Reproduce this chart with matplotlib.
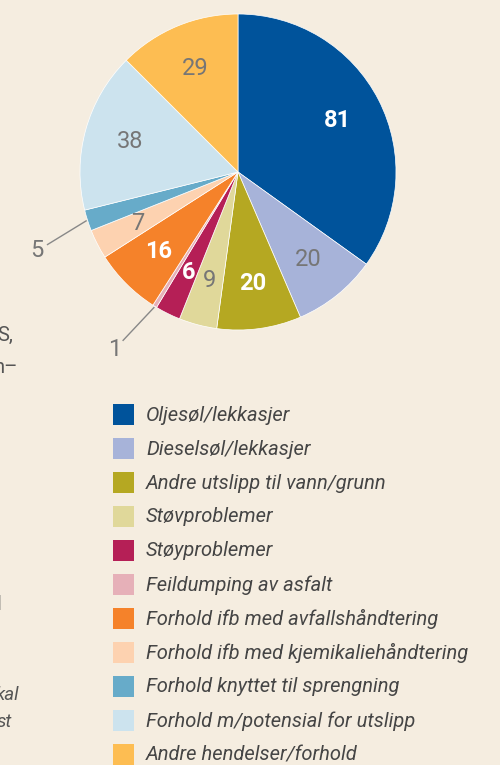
import matplotlib.pyplot as plt
import numpy as np
from matplotlib.patches import Rectangle

# kategorier og antall saker
kategorier = ['Oljesøl/lekkasjer', 'Dieselsøl/lekkasjer', 'Andre utslipp til vann/grunn',
              'Støvproblemer', 'Støyproblemer', 'Feildumping av asfalt',
              'Forhold ifb med avfallshåndtering', 'Forhold ifb med kjemikaliehåndtering',
              'Forhold knyttet til sprengning', 'Forhold m/potensial for utslipp',
              'Andre hendelser/forhold']
antall = [81, 20, 20, 9, 6, 1, 16, 7, 5, 38, 29]
farger = ['#00539B', '#A7B3D9', '#B5A822', '#E0D89A', '#B51F56', '#E6B0B8',
          '#F5822A', '#FDD2B0', '#67ABC9', '#CCE3EE', '#FDBD52']
hvit_tekst = [True, False, True, False, True, False, True, False, False, False, False]
# små sektorer får tall utenfor med strek (vinkelforskyvning i grader)
utenfor = {5: (-2.5, -3.0), 8: (3.0, 3.5)}

bg = '#F5EDE0'
W, H = 500, 765
fig = plt.figure(figsize=(W / 100, H / 100), dpi=100, facecolor=bg)

# bakgrunnsakse i piksler for tegnforklaring og tekst
bak = fig.add_axes([0, 0, 1, 1])
bak.set_xlim(0, W)
bak.set_ylim(H, 0)
bak.axis('off')

cx, cy, r = 238, 172, 158
ax = fig.add_axes([(cx - r) / W, 1 - (cy + r) / H, 2 * r / W, 2 * r / H])
wedges, _ = ax.pie(antall, colors=farger, startangle=90, counterclock=False,
                   radius=1, wedgeprops=dict(edgecolor='white', linewidth=0.5))
ax.set_xlim(-1, 1)
ax.set_ylim(-1, 1)
ax.set_aspect('equal')
ax.axis('off')

for i, (w, n, hvit) in enumerate(zip(wedges, antall, hvit_tekst)):
    mid = (w.theta1 + w.theta2) / 2
    a = np.deg2rad(mid)
    if i in utenfor:
        d_strek, d_tekst = utenfor[i]
        b = np.deg2rad(mid + d_strek)
        t = np.deg2rad(mid + d_tekst)
        ax.plot([1.01 * np.cos(a), 1.29 * np.cos(b)], [1.01 * np.sin(a), 1.29 * np.sin(b)],
                color='#888888', lw=1, clip_on=False)
        ax.text(1.37 * np.cos(t), 1.37 * np.sin(t), str(n), ha='center', va='center',
                fontsize=17, color='#767676', family='Roboto')
    else:
        ax.text(0.71 * np.cos(a), 0.71 * np.sin(a), str(n), ha='center', va='center',
                fontsize=17, color='white' if hvit else '#767676',
                fontweight='bold' if hvit else 'normal', family='Roboto')

# tegnforklaring
for i, (k, f) in enumerate(zip(kategorier, farger)):
    y = 404 + i * 34
    bak.add_patch(Rectangle((113, y), 21, 21, facecolor=f, edgecolor='none'))
    bak.text(146, y + 11, k, ha='left', va='center', fontsize=14.5, style='italic',
             color='#454545', family='Roboto')

# avkuttet tekst fra nabospalten
tekstfarge = '#555555'
bak.text(-3, 335, 'S,', ha='left', va='center', fontsize=14.5, color=tekstfarge, family='Roboto')
bak.text(-6, 367, 'n–', ha='left', va='center', fontsize=14.5, color=tekstfarge, family='Roboto')
bak.text(-4, 605, 'l', ha='left', va='center', fontsize=14.5, color=tekstfarge, family='Roboto')
bak.text(-4, 695, 'kal', ha='left', va='center', fontsize=13.5, color=tekstfarge,
         style='italic', family='Roboto')
bak.text(-3, 722, 'st', ha='left', va='center', fontsize=13.5, color=tekstfarge,
         style='italic', family='Roboto')

fig.savefig('out.png', dpi=100, facecolor=bg)
